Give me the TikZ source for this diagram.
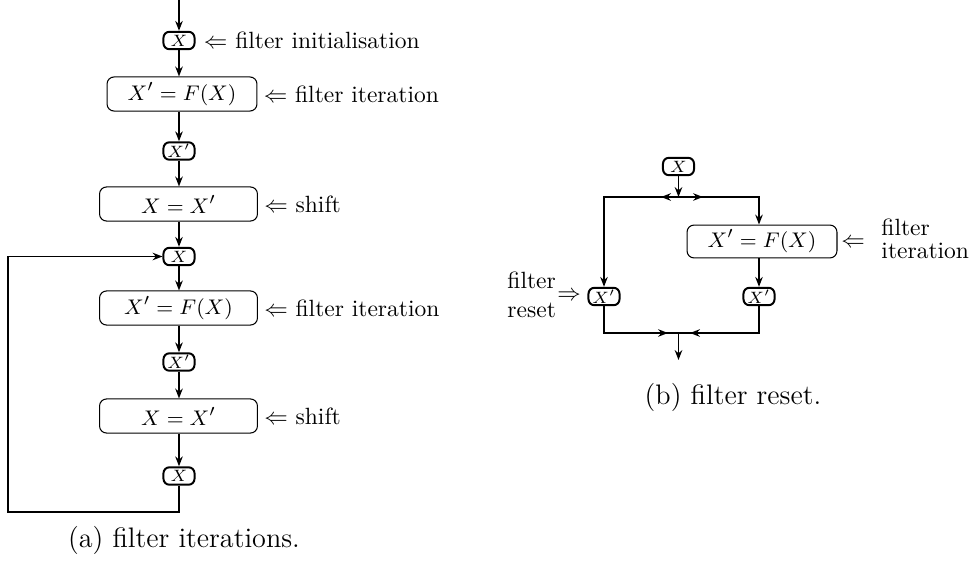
\documentclass[tikz,border=0pt]{standalone}
\usetikzlibrary{arrows.meta}
\begin{document}
\begin{tikzpicture}[x=0.42553pt,y=-0.42553pt,
  tip/.style={-{Stealth[length=4.2pt,width=3.2pt]}},
  conn/.style={line width=0.7pt},
  small/.style={draw,line width=0.85pt,rounded corners=2.5pt,minimum width=13.2pt,minimum height=7.4pt,inner sep=0pt,font=\fontsize{7}{8}\selectfont},
  big/.style={draw,line width=0.45pt,rounded corners=3pt,minimum height=14.5pt,inner sep=0pt,font=\fontsize{9.3}{10}\selectfont},
  lbl/.style={inner sep=0pt,font=\fontsize{10}{12}\selectfont},
  captext/.style={inner sep=0pt,font=\fontsize{12}{14}\selectfont}]
\useasboundingbox (0,0) rectangle (970,565);

% ---------- (a) filter iterations ----------
\coordinate (top) at (179,0);
\node[small] (a0) at (179,40.5) {$X$};
\node[big,minimum width=63.8pt] (a1) at (182,94) {$X'=F(X)$};
\node[small] (a2) at (179,151) {$X'$};
\node[big,minimum width=67.2pt] (a3) at (178.5,204) {$X=X'$};
\node[small] (a4) at (179,256.5) {$X$};
\node[big,minimum width=67.2pt] (a5) at (178.5,308) {$X'=F(X)$};
\node[small] (a6) at (179,362) {$X'$};
\node[big,minimum width=67.2pt] (a7) at (178.5,416) {$X=X'$};
\node[small] (a8) at (179,476) {$X$};
\coordinate (lb) at (8,512);

\draw[conn,tip] (top) -- (a0.north);
\draw[conn,tip] (a0.south) -- (a0.south |- a1.north);
\draw[conn,tip] (a0.south |- a1.south) -- (a2.north);
\draw[conn,tip] (a2.south) -- (a2.south |- a3.north);
\draw[conn,tip] (a2.south |- a3.south) -- (a4.north);
\draw[conn,tip] (a4.south) -- (a4.south |- a5.north);
\draw[conn,tip] (a4.south |- a5.south) -- (a6.north);
\draw[conn,tip] (a6.south) -- (a6.south |- a7.north);
\draw[conn,tip] (a6.south |- a7.south) -- (a8.north);
\draw[conn,tip] (a8.south) |- (lb) |- (a4.west);

\node[lbl,anchor=west] (l0) at ([xshift=3.4pt]a0.east) {$\Leftarrow$ filter initialisation};
\node[lbl,anchor=west] (l1) at ([xshift=2.5pt]a1.east) {$\Leftarrow$ filter iteration};
\node[lbl,anchor=west] (l3) at ([xshift=2.5pt]a3.east) {$\Leftarrow$ shift};
\node[lbl,anchor=west] (l5) at ([xshift=2.5pt]a5.east) {$\Leftarrow$ filter iteration};
\node[lbl,anchor=west] (l7) at ([xshift=2.5pt]a7.east) {$\Leftarrow$ shift};

\node[captext] (capa) at (184,540) {(a) filter iterations.};

% ---------- (b) filter reset ----------
\node[small] (r0) at (678.5,166.5) {$X$};
\coordinate (j1) at (678.5,197);
\coordinate (c1) at (604,197);
\coordinate (c2) at (759,197);
\coordinate (m1) at (661,197);
\coordinate (m2) at (703,197);
\node[big,minimum width=63.8pt,minimum height=14pt] (rF) at (762,241.5) {$X'=F(X)$};
\node[small] (rL) at (604,296.5) {$X'$};
\node[small] (rR) at (759,296.5) {$X'$};
\coordinate (j2) at (678.5,333);
\coordinate (d1) at (604,333);
\coordinate (d2) at (759,333);
\coordinate (m3) at (668,333);
\coordinate (m4) at (690,333);
\coordinate (out) at (678.5,360);

\draw[conn,tip] (r0.south) -- (j1);
\draw[conn,tip] (j1) -- (c1) -- (rL.north);
\draw[conn,tip] (j1) -- (c2) -- (c2 |- rF.north);
\draw[conn,tip] (j1) -- (m1);
\draw[conn,tip] (j1) -- (m2);
\draw[conn,tip] (c2 |- rF.south) -- (rR.north);
\draw[conn] (rL.south) -- (d1) -- (d2) -- (rR.south);
\draw[conn,tip] (d1) -- (m3);
\draw[conn,tip] (d2) -- (m4);
\draw[conn,tip] (j2) -- (out);

\node[lbl,anchor=west] (rarr) at (841,243) {$\Leftarrow$};
\node[lbl,anchor=base west] (rt1) at (881,235) {filter};
\node[lbl,anchor=base west] (rt2) at (881,258) {iteration};

\node[lbl,anchor=base west] (lt1) at (507,288) {filter};
\node[lbl,anchor=base west] (lt2) at (507,317) {reset};
\node[lbl,anchor=west] (larr) at (557,296) {$\Rightarrow$};

\node[captext] (capb) at (733,397) {(b) filter reset.};
\end{tikzpicture}
\end{document}
